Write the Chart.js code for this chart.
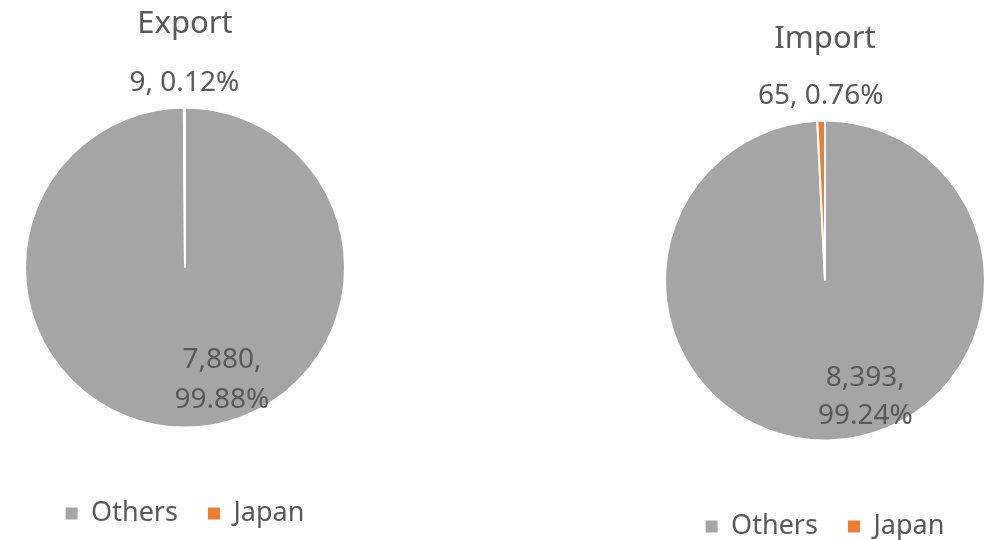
<!DOCTYPE html>
<html><head><meta charset="utf-8">
<script src="https://cdn.jsdelivr.net/npm/chart.js@4/dist/chart.umd.min.js"></script>
<style>
html,body{margin:0;padding:0;background:#fff;overflow:hidden;width:997px;height:540px;}
.box{position:absolute;}
#c1wrap{left:0;top:0;width:370px;height:540px;}
#c2wrap{left:655px;top:0;width:340px;height:540px;}
</style></head><body>
<div class="box" id="c1wrap"><canvas id="c1"></canvas></div>
<div class="box" id="c2wrap"><canvas id="c2"></canvas></div>
<script>
const categories = ['Others', 'Japan'];
const exportValues = [7880, 9];
const exportPercents = [99.88, 0.12];
const importValues = [8393, 65];
const importPercents = [99.24, 0.76];
const sliceColors = ['#A5A5A5', '#ED7D31'];
const textColor = '#595959';
const fontFamily = '"Noto Sans", "Open Sans", sans-serif';

const sliceLabels = {
  id: 'sliceLabels',
  afterDatasetsDraw(chart, args, opts) {
    const meta = chart.getDatasetMeta(0);
    const ctx = chart.ctx;
    const vals = chart.data.datasets[0].data;
    const pcts = opts.percents;
    ctx.save();
    ctx.font = '28px ' + fontFamily;
    ctx.fillStyle = textColor;
    ctx.textAlign = 'center';
    ctx.textBaseline = 'alphabetic';
    meta.data.forEach((arc, i) => {
      const p = arc.getProps(['x', 'y', 'startAngle', 'endAngle', 'outerRadius'], true);
      const valTxt = vals[i].toLocaleString('en-US');
      const pctTxt = pcts[i].toFixed(2) + '%';
      const frac = (p.endAngle - p.startAngle) / (2 * Math.PI);
      if (frac < 0.05) {
        const mid = (p.startAngle + p.endAngle) / 2;
        const r = p.outerRadius + opts.outsideGap;
        ctx.fillText(valTxt + ', ' + pctTxt, p.x + Math.cos(mid) * r, p.y + Math.sin(mid) * r);
      } else {
        const a = Math.PI / 2 - opts.insideAngle * Math.PI / 180;
        const r = p.outerRadius * opts.insideRatio;
        const cx = p.x + Math.cos(a) * r, cy = p.y + Math.sin(a) * r;
        ctx.fillText(valTxt + ',', cx, cy - opts.lineGap / 2);
        ctx.fillText(pctTxt, cx, cy + opts.lineGap / 2);
      }
    });
    ctx.restore();
  }
};

function makeChart(id, title, values, percents, cfg) {
  return new Chart(document.getElementById(id), {
    type: 'pie',
    data: {
      labels: categories,
      datasets: [{
        data: values,
        backgroundColor: sliceColors,
        borderColor: '#FFFFFF',
        borderWidth: 2,
        hoverOffset: 0,
        radius: 160
      }]
    },
    options: {
      responsive: true,
      maintainAspectRatio: false,
      animation: false,
      layout: { padding: { top: 0, bottom: cfg.padBottom, left: 0, right: 0 } },
      plugins: {
        title: {
          display: true,
          text: title,
          color: textColor,
          font: { family: fontFamily, size: 31, weight: 'normal' },
          padding: { top: cfg.titleTop, bottom: cfg.titleBottom }
        },
        legend: {
          position: 'bottom',
          labels: {
            color: textColor,
            font: { family: fontFamily, size: 27 },
            boxWidth: 12,
            boxHeight: 12,
            padding: 30,
            generateLabels(chart) {
              const items = Chart.overrides.pie.plugins.legend.labels.generateLabels(chart);
              return items.map(it => Object.assign(it, { lineWidth: 0, strokeStyle: 'rgba(0,0,0,0)' }));
            }
          }
        },
        tooltip: { enabled: false },
        sliceLabels: {
          percents: percents,
          outsideGap: 17,
          insideAngle: cfg.insideAngle,
          insideRatio: cfg.insideRatio,
          lineGap: cfg.lineGap
        }
      }
    },
    plugins: [sliceLabels]
  });
}

makeChart('c1', 'Export', exportValues, exportPercents,
  { titleTop: 6, titleBottom: 22, padBottom: 3, insideAngle: 17, insideRatio: 0.79, lineGap: 40 });
makeChart('c2', 'Import', importValues, importPercents,
  { titleTop: 21, titleBottom: 20, padBottom: -10, insideAngle: 18, insideRatio: 0.815, lineGap: 38 });
</script>
</body></html>
